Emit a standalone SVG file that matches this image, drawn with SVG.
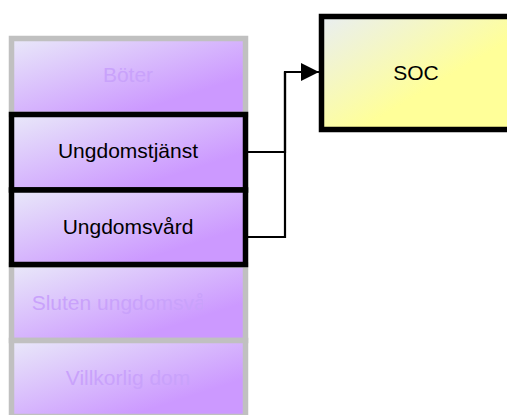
<svg xmlns="http://www.w3.org/2000/svg" width="507" height="415" viewBox="0 0 507 415">
<defs>
<linearGradient id="gP" x1="0" y1="0" x2="1" y2="1">
<stop offset="0" stop-color="#e9e9f9"/>
<stop offset="0.75" stop-color="#cc99ff"/>
<stop offset="1" stop-color="#cc99ff"/>
</linearGradient>
<linearGradient id="gY" x1="0" y1="0" x2="1" y2="1">
<stop offset="0" stop-color="#e9eef2"/>
<stop offset="0.6" stop-color="#ffff99"/>
<stop offset="1" stop-color="#ffff99"/>
</linearGradient>
<clipPath id="clipS"><rect x="14" y="268" width="189" height="70"/></clipPath>
<marker id="arr" markerWidth="18" markerHeight="18" refX="18" refY="9" orient="auto" markerUnits="userSpaceOnUse" viewBox="0 0 18 18">
<path d="M0,0 L18,9 L0,18 z" fill="#000"/>
</marker>
</defs>
<style>
.dim rect{fill:url(#gP);stroke:#c0c0c0;stroke-width:5.5}
.act rect{fill:url(#gP);stroke:#000;stroke-width:5.5}
.soc rect{fill:url(#gY);stroke:#000;stroke-width:5.5}
text{font-family:"Liberation Sans",Arial,sans-serif;font-size:21px;text-anchor:middle}
.dim text{fill:#c9a2fb}
.act text,.soc text{fill:#000}
.conn path{fill:none;stroke:#000;stroke-width:2.2}
</style>
<g id="node-boter" class="dim">
<rect x="11.5" y="38.5" width="234" height="76"/>
<text x="128" y="82">Böter</text>
</g>
<g id="node-sluten" class="dim">
<rect x="11.5" y="265" width="234" height="75.5"/>
<text x="128" y="309.5" clip-path="url(#clipS)">Sluten ungdomsvård</text>
</g>
<g id="node-villkorlig" class="dim">
<rect x="11.5" y="340.5" width="234" height="76"/>
<text x="128" y="385">Villkorlig dom</text>
</g>
<g id="node-tjanst" class="act">
<rect x="11.5" y="114.5" width="234" height="75.5"/>
<text x="128" y="158.3">Ungdomstjänst</text>
</g>
<g id="node-vard" class="act">
<rect x="11.5" y="190" width="234" height="74.5"/>
<text x="128" y="233.5">Ungdomsvård</text>
</g>
<g id="node-soc" class="soc">
<rect x="321.5" y="16.5" width="190" height="113"/>
<text x="416" y="79.5">SOC</text>
</g>
<g id="connectors" class="conn">
<path d="M248,152 H285 V72 H319" marker-end="url(#arr)"/>
<path d="M248,237 H285 V72"/>
</g>
</svg>
